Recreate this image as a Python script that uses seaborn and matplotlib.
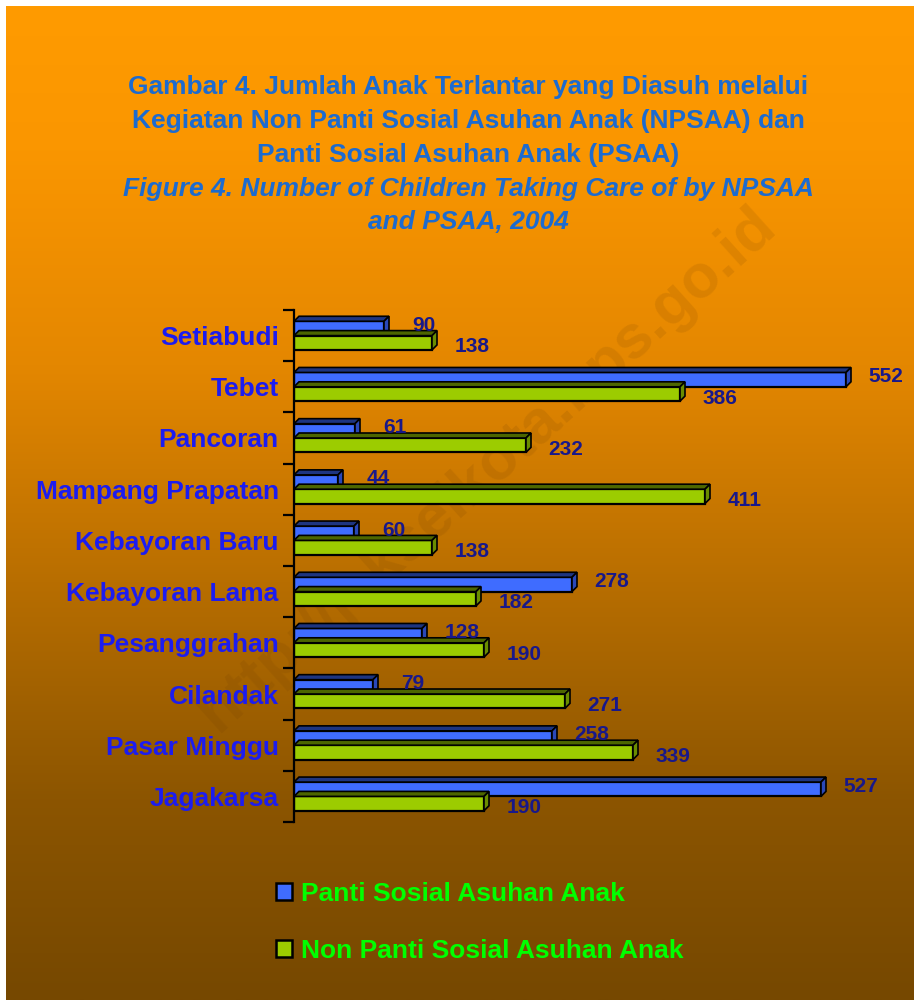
import numpy as np
import pandas as pd
import matplotlib
matplotlib.use('Agg')
import matplotlib.pyplot as plt
from matplotlib.patches import Polygon, Patch
import seaborn as sns

# data
kecamatan = ['Setiabudi', 'Tebet', 'Pancoran', 'Mampang Prapatan', 'Kebayoran Baru',
             'Kebayoran Lama', 'Pesanggrahan', 'Cilandak', 'Pasar Minggu', 'Jagakarsa']
psaa = [90, 552, 61, 44, 60, 278, 128, 79, 258, 527]
npsaa = [138, 386, 232, 411, 138, 182, 190, 271, 339, 190]
series_names = ['Panti Sosial Asuhan Anak', 'Non Panti Sosial Asuhan Anak']
title_id = ['Gambar 4. Jumlah Anak Terlantar yang Diasuh melalui',
            'Kegiatan Non Panti Sosial Asuhan Anak (NPSAA) dan',
            'Panti Sosial Asuhan Anak (PSAA)']
title_en = ['Figure 4. Number of Children Taking Care of by NPSAA',
            'and PSAA, 2004']
watermark = 'http://jakselkota.bps.go.id'

bar_colors = ['#3f6cff', '#9ccc00']
side_colors = ['#2a48b8', '#6a8c00']
top_colors = ['#1e3580', '#4d6600']

df = pd.DataFrame({
    'kecamatan': kecamatan * 2,
    'jumlah': psaa + npsaa,
    'jenis': [series_names[0]] * len(kecamatan) + [series_names[1]] * len(kecamatan),
})

sns.set_style('white')
plt.rcParams['font.family'] = ['Liberation Sans', 'DejaVu Sans']

W, H = 914, 1000
fig = plt.figure(figsize=(W / 100, H / 100), dpi=100, facecolor='white')

# gradient background (white strip on top and left like the source)
bg = fig.add_axes([6 / W, 0, 1 - 6 / W, 1 - 6 / H], zorder=-2)
ys = np.linspace(6, 1000, 400)
stops_y = [6, 150, 365, 800, 1000]
r = np.interp(ys, stops_y, [255, 250, 228, 140, 118])
g = np.interp(ys, stops_y, [155, 150, 135, 85, 72])
b = np.zeros_like(ys)
grad = np.stack([r, g, b], axis=-1)[:, None, :] / 255.0
bg.imshow(grad, aspect='auto', extent=[0, 1, 0, 1], interpolation='bilinear')
bg.set_axis_off()

fig.text(488 / W, 1 - 470 / H, watermark, rotation=42, fontsize=44, fontweight='bold',
         color='#6a3a00', alpha=0.13, ha='center', va='center', zorder=-1)

# main axes: left spine at x=294px, from y=310 to y=822
ax_left, ax_w = 294 / W, 620 / W
ax_top, ax_bot = 310, 822
ax = fig.add_axes([ax_left, 1 - ax_bot / H, ax_w, (ax_bot - ax_top) / H], zorder=1)
ax.set_facecolor('none')

sns.barplot(data=df, y='kecamatan', x='jumlah', hue='jenis', hue_order=series_names,
            order=kecamatan, palette=bar_colors, orient='h', width=0.56,
            edgecolor='black', linewidth=1.6, saturation=1, legend=False, ax=ax)

ax.set_xlim(0, 620)
ax.set_ylim(len(kecamatan) - 0.5, -0.5)

# 3D depth faces for each bar
px_x = (ax_w * W) / 620.0
px_y = (ax_bot - ax_top) / len(kecamatan)
dep = 5
dx, dy = dep / px_x, dep / px_y
for i, p in enumerate(ax.patches):
    s = 0 if i < len(kecamatan) else 1
    x0, y0 = p.get_x(), p.get_y()
    x1, y1 = x0 + p.get_width(), y0 + p.get_height()
    top = Polygon([(x0, y0), (x1, y0), (x1 + dx, y0 - dy), (x0 + dx, y0 - dy)],
                  closed=True, facecolor=top_colors[s], edgecolor='black', linewidth=1.2, zorder=2)
    side = Polygon([(x1, y0), (x1 + dx, y0 - dy), (x1 + dx, y1 - dy), (x1, y1)],
                   closed=True, facecolor=side_colors[s], edgecolor='black', linewidth=1.2, zorder=2)
    ax.add_patch(top)
    ax.add_patch(side)

# value labels
for s, vals in enumerate([psaa, npsaa]):
    for i, v in enumerate(vals):
        yoff = -0.2 if s == 0 else 0.22
        ax.text(v + 40, i + yoff, str(v), ha='center', va='center', fontsize=15,
                fontweight='bold', color='#18188a', zorder=3)

# axis styling
sns.despine(ax=ax, left=False, bottom=True)
ax.spines['left'].set_color('black')
ax.spines['left'].set_linewidth(1.6)
ax.set_xticks([])
ax.set_xlabel('')
ax.set_ylabel('')
ax.set_yticks(range(len(kecamatan)))
ax.set_yticklabels(kecamatan, fontsize=19, fontweight='bold', color='#1c1cf0')
ax.set_yticks(np.arange(-0.5, len(kecamatan)), minor=True)
ax.tick_params(axis='y', which='both', left=True)
ax.tick_params(axis='y', which='major', length=0, pad=11)
ax.tick_params(axis='y', which='minor', length=8, width=1.6, color='black', direction='out')

# title
cx = 468 / W
for k, line in enumerate(title_id):
    fig.text(cx, 1 - (87 + 34 * k) / H, line, ha='center', va='center', fontsize=19,
             fontweight='bold', color='#1c6bd0')
for k, line in enumerate(title_en):
    fig.text(cx, 1 - (189 + 33 * k) / H, line, ha='center', va='center', fontsize=19,
             fontweight='bold', fontstyle='italic', color='#1c6bd0')

# legend
handles = [Patch(facecolor=c, edgecolor='black', linewidth=1.8) for c in bar_colors]
leg = fig.legend(handles, series_names, loc='upper left',
                 bbox_to_anchor=(252 / W, 1 - 858 / H), frameon=False,
                 prop={'family': 'Liberation Sans', 'weight': 'bold', 'size': 19},
                 handlelength=0.6, handleheight=0.6, handletextpad=0.35, labelspacing=1.25)
for t in leg.get_texts():
    t.set_color('#00ff00')

fig.savefig('out.png', dpi=100, facecolor='white')
